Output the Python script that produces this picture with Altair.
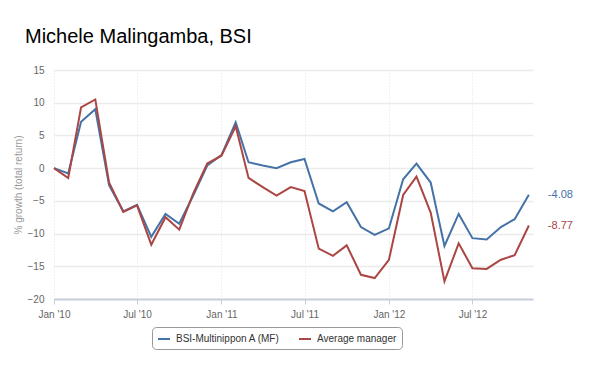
import altair as alt
import pandas as pd

# ---- data ----
months = pd.date_range("2010-01-01", "2012-11-01", freq="MS").strftime("%Y-%m-%d").tolist()
bsi = [0.0, -0.8, 7.1, 9.0, -2.6, -6.6, -5.6, -10.5, -7.0, -8.5, -4.1, 0.4,
       2.0, 7.0, 0.9, 0.4, 0.0, 0.9, 1.4, -5.4, -6.6, -5.2, -9.0, -10.2,
       -9.2, -1.7, 0.7, -2.2, -11.9, -7.0, -10.7, -10.9, -9.0, -7.8, -4.08]
avg = [0.0, -1.5, 9.3, 10.5, -2.2, -6.7, -5.7, -11.7, -7.5, -9.4, -3.8, 0.7,
       1.9, 6.4, -1.5, -2.9, -4.2, -2.9, -3.5, -12.3, -13.4, -11.8, -16.3, -16.8,
       -14.0, -4.1, -1.3, -6.8, -17.3, -11.5, -15.3, -15.4, -14.0, -13.3, -8.77]
series_names = ["BSI-Multinippon A (MF)", "Average manager"]
series_colors = ["#4572A7", "#AA4643"]
end_labels = ["-4.08", "-8.77"]
y_ticks = [-20, -15, -10, -5, 0, 5, 10, 15]
title_text = "Michele Malingamba, BSI"
y_title = "% growth (total return)"

rows = []
for name, vals, lab in zip(series_names, [bsi, avg], end_labels):
    for i, (m, v) in enumerate(zip(months, vals)):
        rows.append({"date": m, "value": v, "series": name,
                     "label": lab if i == len(months) - 1 else ""})
df = pd.DataFrame(rows)

FONT = "Liberation Sans"
W, H = 479, 229

x_enc = alt.X(
    "date:T",
    scale=alt.Scale(type="utc",
                    domain=[alt.DateTime(year=2010, month=1, date=1, utc=True),
                            alt.DateTime(year=2012, month=11, date=10, utc=True)]),
    axis=alt.Axis(
        title=None,
        values=[alt.DateTime(year=y, month=m, date=1, utc=True)
                for y in (2010, 2011, 2012) for m in (1, 7)],
        format="%b '%y",
        labelFont=FONT, labelFontSize=10, labelColor="#666666",
        labelPadding=5, tickSize=5, tickColor="#C0D0E0",
        domainColor="#C8D0DC", domainWidth=2,
        grid=True, gridColor="#e0e0e0", gridDash=[1, 2], gridWidth=1,
        labelFlush=False, labelOverlap=False,
    ),
)
y_enc = alt.Y(
    "value:Q",
    scale=alt.Scale(domain=[-20, 15], nice=False, zero=False),
    axis=alt.Axis(
        title=y_title, values=y_ticks, tickCount=8,
        labelFont=FONT, labelFontSize=10, labelColor="#666666",
        labelPadding=10, ticks=False, domain=False, labelOverlap=False,
        grid=True, gridColor="#ebebeb", gridWidth=1.5,
        titleFont=FONT, titleFontSize=10, titleFontWeight="normal",
        titleColor="#999999", titleX=-36, titleY=H / 2,
        titleAngle=270, titleAlign="center", titleBaseline="middle",
    ),
)
color_enc = alt.Color(
    "series:N",
    scale=alt.Scale(domain=series_names, range=series_colors),
    legend=alt.Legend(
        title=None, orient="none", legendX=98, legendY=257,
        direction="horizontal", symbolType="stroke", symbolSize=144,
        symbolStrokeWidth=2, labelFont=FONT, labelFontSize=10,
        labelColor="#333333", labelOffset=5, columnPadding=15,
        strokeColor="#999999", cornerRadius=4, padding=5,
    ),
)

base = alt.Chart(df)
lines = base.mark_line(strokeWidth=2, clip=False).encode(
    x=x_enc, y=y_enc, color=color_enc, detail="series:N")

labels = base.transform_filter(alt.datum.label != "").mark_text(
    align="left", baseline="middle", dx=19, font=FONT, fontSize=11
).encode(
    x="date:T", y="value:Q", text="label:N",
    color=alt.Color("series:N", scale=alt.Scale(domain=series_names, range=series_colors), legend=None),
)

title = alt.Chart(pd.DataFrame({"t": [title_text]})).mark_text(
    align="left", baseline="alphabetic", font=FONT, fontSize=20, color="black"
).encode(x=alt.value(-29), y=alt.value(-27), text="t:N")

chart = alt.layer(lines, labels, title).properties(
    width=W, height=H,
    autosize=alt.AutoSizeParams(type="none"),
    padding={"left": 54, "top": 70, "right": 67, "bottom": 76},
    background="white",
).configure_view(stroke=None)

chart.save("out.html", embed_options={"renderer": "svg", "actions": False})
